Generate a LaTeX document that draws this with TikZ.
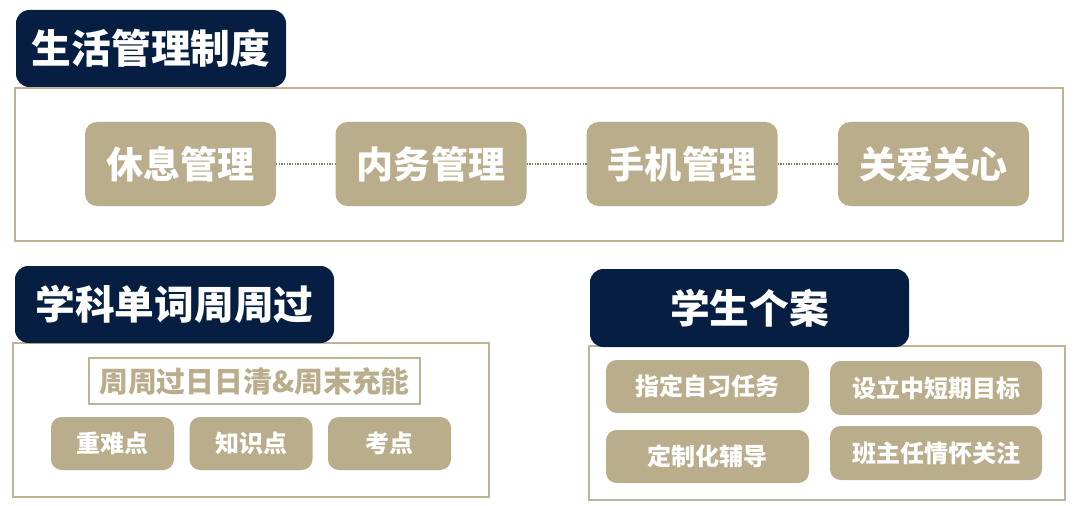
\documentclass[tikz,border=0pt]{standalone}
\usepackage{fontspec}
\setmainfont{Noto Sans CJK SC}
\definecolor{navy}{HTML}{061E42}
\definecolor{tan}{HTML}{B9AD8B}
\definecolor{framec}{HTML}{BFB596}
\definecolor{dotc}{HTML}{8A7858}
\tikzset{
  titlebox/.style={fill=navy, rounded corners=10pt, text=white, font=\bfseries\fontsize{29.8pt}{32pt}\selectfont, inner sep=0pt, outer sep=0pt},
  bigbox/.style={fill=tan, rounded corners=9pt, text=white, font=\bfseries\fontsize{27.8pt}{30pt}\selectfont, inner sep=0pt, outer sep=0pt, minimum width=143.25pt, minimum height=63pt},
  smallbox/.style={fill=tan, rounded corners=8pt, text=white, font=\bfseries\fontsize{18pt}{20pt}\selectfont, inner sep=0pt, outer sep=0pt},
  frame/.style={draw=framec, line width=1.5pt},
  link/.style={draw=dotc, line width=1.1pt, dash pattern=on 1pt off 1pt}
}
\begin{document}
\begin{tikzpicture}[x=0.75pt,y=-0.75pt]
\useasboundingbox (0,0) rectangle (1080,506);
% frames
\draw[frame] (15,88) rectangle (1063,241);
\draw[frame] (13,343) rectangle (489,497);
\draw[frame] (589,346) rectangle (1065,500);
% titles
\node[titlebox, minimum width=202.5pt, minimum height=57.75pt] (t1) at (151,48.5) {生活管理制度};
\node[titlebox, minimum width=239.25pt, minimum height=57.75pt] (t2) at (174.5,304.5) {学科单词周周过};
\node[titlebox, minimum width=239.25pt, minimum height=58.5pt] (t3) at (749.5,308) {学生个案};
% top row
\node[bigbox] (b1) at (180.5,164) {休息管理};
\node[bigbox] (b2) at (431,164) {内务管理};
\node[bigbox] (b3) at (682,164) {手机管理};
\node[bigbox] (b4) at (933.5,164) {关爱关心};
\draw[link] (b1.east) -- (b2.west);
\draw[link] (b2.east) -- (b3.west);
\draw[link] (b3.east) -- (b4.west);
% bottom left
\node[draw=framec, line width=1.5pt, text=tan, font=\bfseries\fontsize{21.6pt}{24pt}\selectfont, inner sep=0pt, minimum width=248.25pt, minimum height=34.5pt] (sub) at (254.5,381) {周周过日日清\&周末充能};
\node[smallbox, minimum width=92.25pt, minimum height=39.75pt] (c1) at (112.5,443.5) {重难点};
\node[smallbox, minimum width=92.25pt, minimum height=39.75pt] (c2) at (251,443.5) {知识点};
\node[smallbox, minimum width=92.25pt, minimum height=39.75pt] (c3) at (389.5,443.5) {考点};
% bottom right
\node[smallbox, minimum width=152.25pt, minimum height=39.75pt] (d1) at (707.5,386.5) {指定自习任务};
\node[smallbox, minimum width=159pt, minimum height=40.5pt] (d2) at (936,388) {设立中短期目标};
\node[smallbox, minimum width=152.25pt, minimum height=39.75pt] (d3) at (707.5,456.5) {定制化辅导};
\node[smallbox, minimum width=159pt, minimum height=40.5pt] (d4) at (936,453) {班主任情怀关注};
\end{tikzpicture}
\end{document}
